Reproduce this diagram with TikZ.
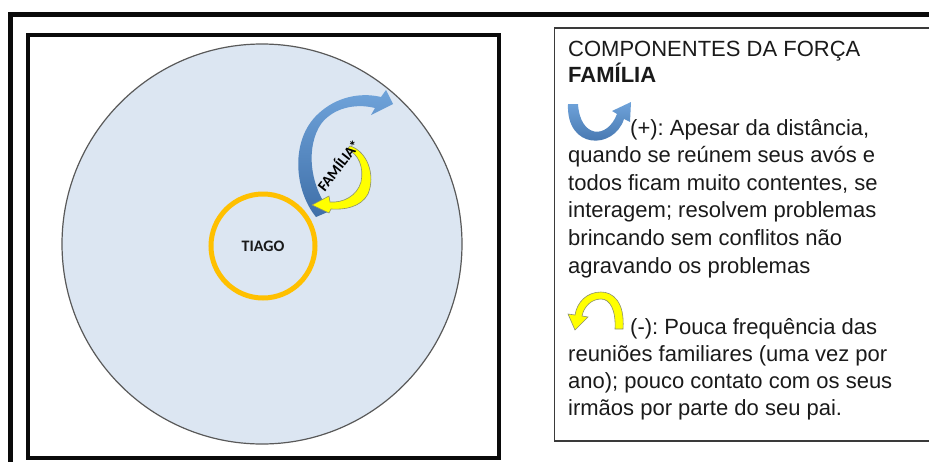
\documentclass[tikz,border=0pt]{standalone}
\usepackage{fontspec}
\setmainfont{Liberation Sans}
\newfontfamily\calibri{Carlito}
\usepackage{tikz}
\usetikzlibrary{positioning}
\definecolor{ink}{HTML}{1A1A1A}
\definecolor{frame}{HTML}{0A0A0A}
\definecolor{field}{HTML}{DCE6F2}
\definecolor{rim}{HTML}{595959}
\definecolor{ring}{HTML}{FFC000}
\definecolor{blueup}{HTML}{6FA3DA}
\definecolor{bluedown}{HTML}{3F6FA8}
\definecolor{yel}{HTML}{FFFF00}
\definecolor{yeledge}{HTML}{8A8F70}
\definecolor{boxline}{HTML}{3A3A3A}
\frenchspacing

\begin{document}
\begin{tikzpicture}[x=1pt,y=-1pt,
  txt/.style={font=\fontsize{22}{27}\selectfont,text=ink,anchor=base west,inner sep=0pt},
  bluearrow/.style={top color=blueup,bottom color=bluedown},
  yelarrow/.style={fill=yel,draw=yeledge,line width=0.6pt}]
  \useasboundingbox (0,0) rectangle (929,461);
  \draw[frame,line width=5.5pt] (10.3,470) -- (10.3,14.5) -- (940,14.5);
  \draw[frame,line width=3.5pt] (28,35) rectangle (499,458);
  \node[circle,fill=field,draw=rim,line width=1.2pt,minimum size=400pt,inner sep=0pt] (campo) at (262,244) {};
  \node[circle,draw=ring,line width=5pt,minimum size=104pt,inner sep=0pt,
        font=\calibri\bfseries\fontsize{16}{16}\selectfont,text=ink] (tiago) at (263,246) {TIAGO};
  \shade[bluearrow] (316,217) .. controls (294,190) and (290,140) .. (318,114)
    .. controls (336,97) and (360,92) .. (381,97) -- (386,90) -- (393,104) -- (371,115) -- (375,108)
    .. controls (355,103) and (333,108) .. (321,124)
    .. controls (306,146) and (309,185) .. (330,211) -- cycle;
  \filldraw[yelarrow] (350,146) .. controls (367,151) and (376,175) .. (368,194)
    .. controls (361,207) and (345,210) .. (331,209) -- (329,213) -- (312,205) -- (329,196) -- (330,202)
    .. controls (343,203) and (357,196) .. (361,182)
    .. controls (364,168) and (359,154) .. (347,149) -- cycle;
  \node[font=\calibri\bfseries\fontsize{15}{15}\selectfont,text=black,rotate=52,inner sep=0pt] (forcalbl) at (338,165) {FAMÍLIA*};
  \draw[boxline,line width=1.2pt] (554.5,28) rectangle (940,441);
  \node[txt] (titulo) at (568,56) {COMPONENTES DA FORÇA};
  \node[txt,font=\bfseries\fontsize{22}{27}\selectfont] (forca) at (568,82) {FAMÍLIA};
  \shade[bluearrow] (568,104) .. controls (566,150) and (614,150) .. (624,119) -- (630,122) -- (631,102)
    -- (612,111) -- (617,114) .. controls (607,140) and (580,138) .. (578,104) -- cycle;
  \node[txt] (mais) at (630,135) {(+): Apesar da distância,};
  \foreach \t [count=\i] in {{quando se reúnem seus avós e},{todos ficam muito contentes, se},
      {interagem; resolvem problemas},{brincando sem conflitos não},{agravando os problemas}}
    \node[txt] (mais\i) at (568,135+27.6*\i) {\t};
  \filldraw[yelarrow] (623,329) .. controls (625,302) and (613,292) .. (601,292)
    .. controls (587,292) and (577,302) .. (575,315) -- (568,314) -- (575,330) -- (588,317) -- (582,316)
    .. controls (584,306) and (592,299) .. (601,299) .. controls (610,299) and (616,310) .. (615,329) -- cycle;
  \node[txt] (menos) at (630,334) {(-): Pouca frequência das};
  \foreach \t [count=\i] in {{reuniões familiares (uma vez por},{ano); pouco contato com os seus},
      {irmãos por parte do seu pai.}}
    \node[txt] (menos\i) at (568,334+27*\i) {\t};
\end{tikzpicture}
\end{document}
